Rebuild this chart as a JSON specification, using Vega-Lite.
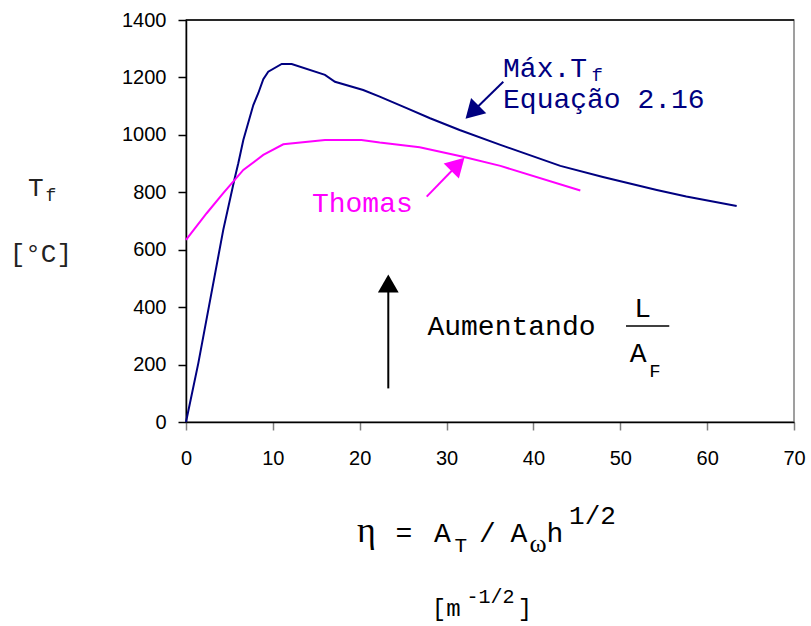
{
  "$schema": "https://vega.github.io/schema/vega-lite/v6.json",
  "width": 608,
  "height": 402,
  "autosize": {"type": "none"},
  "padding": {"left": 186, "top": 20, "right": 17, "bottom": 204},
  "background": "white",
  "config": {"view": {"stroke": "#808080", "strokeWidth": 1.5}},
  "datasets": {
    "curves": [
      {"label": "Max", "x": 0, "y": 0},
      {"label": "Max", "x": 1.42, "y": 205},
      {"label": "Max", "x": 4.29, "y": 669},
      {"label": "Max", "x": 5.56, "y": 843},
      {"label": "Max", "x": 6.02, "y": 901},
      {"label": "Max", "x": 6.6, "y": 982},
      {"label": "Max", "x": 7.75, "y": 1104},
      {"label": "Max", "x": 8.32, "y": 1145},
      {"label": "Max", "x": 8.9, "y": 1194},
      {"label": "Max", "x": 9.47, "y": 1220},
      {"label": "Max", "x": 11.02, "y": 1247},
      {"label": "Max", "x": 12.17, "y": 1247},
      {"label": "Max", "x": 16.0, "y": 1209},
      {"label": "Max", "x": 17.15, "y": 1185},
      {"label": "Max", "x": 20.4, "y": 1156},
      {"label": "Max", "x": 22.3, "y": 1133},
      {"label": "Max", "x": 25.4, "y": 1093},
      {"label": "Max", "x": 28.1, "y": 1058},
      {"label": "Max", "x": 31.5, "y": 1017},
      {"label": "Max", "x": 36.2, "y": 965},
      {"label": "Max", "x": 43.1, "y": 892},
      {"label": "Max", "x": 48.0, "y": 853},
      {"label": "Max", "x": 54.2, "y": 808},
      {"label": "Max", "x": 57.6, "y": 785},
      {"label": "Max", "x": 63.4, "y": 752},
      {"label": "Thomas", "x": 0, "y": 634},
      {"label": "Thomas", "x": 2.38, "y": 727},
      {"label": "Thomas", "x": 4.29, "y": 797},
      {"label": "Thomas", "x": 6.6, "y": 878},
      {"label": "Thomas", "x": 8.9, "y": 930},
      {"label": "Thomas", "x": 11.2, "y": 967},
      {"label": "Thomas", "x": 16.0, "y": 982},
      {"label": "Thomas", "x": 20.2, "y": 982},
      {"label": "Thomas", "x": 22.3, "y": 973},
      {"label": "Thomas", "x": 26.9, "y": 957},
      {"label": "Thomas", "x": 31.9, "y": 924},
      {"label": "Thomas", "x": 36.2, "y": 892},
      {"label": "Thomas", "x": 45.4, "y": 806}
    ],
    "arrows": [
      {"label": "Max", "x": 36.53, "y": 1185, "x2": 32.94, "y2": 1079},
      {"label": "Thomas", "x": 27.71, "y": 785, "x2": 31.3, "y2": 897},
      {"label": "Aumentando", "x": 23.29, "y": 117, "x2": 23.29, "y2": 482}
    ]
  },
  "layer": [
    {
      "data": {"name": "curves"},
      "mark": {"type": "line", "strokeWidth": 2},
      "encoding": {
        "x": {"field": "x", "type": "quantitative", "scale": {"domain": [0, 70], "nice": false, "zero": false},
          "axis": {"values": [0, 10, 20, 30, 40, 50, 60, 70], "format": "d", "title": null, "grid": false, "labelFont": "Liberation Sans", "labelFontSize": 20, "labelColor": "black", "domainColor": "black", "domainWidth": 1.5, "tickColor": "#808080", "tickWidth": 1.5, "tickSize": 8, "labelPadding": 18, "labelFlush": false}},
        "y": {"field": "y", "type": "quantitative", "scale": {"domain": [0, 1400], "nice": false},
          "axis": {"values": [0, 200, 400, 600, 800, 1000, 1200, 1400], "format": "d", "title": null, "grid": false, "labelFont": "Liberation Sans", "labelFontSize": 20, "labelColor": "black", "domainColor": "black", "domainWidth": 1.5, "tickColor": "black", "tickWidth": 1.5, "tickSize": 8, "labelPadding": 12}},
        "color": {"field": "label", "type": "nominal", "scale": {"domain": ["Max", "Thomas", "Aumentando"], "range": ["#000080", "#FF00FF", "#000000"]}, "legend": null},
        "order": {"field": "x", "type": "quantitative"}
      }
    },
    {
      "data": {"values": [{"x": 0, "x2": 70, "y": 1400}]},
      "mark": {"type": "rule", "color": "black", "strokeWidth": 1.5},
      "encoding": {"x": {"field": "x", "type": "quantitative"}, "x2": {"field": "x2"}, "y": {"field": "y", "type": "quantitative"}}
    },
    {
      "data": {"name": "arrows"},
      "mark": {"type": "rule", "strokeWidth": 2},
      "encoding": {
        "x": {"field": "x", "type": "quantitative"}, "y": {"field": "y", "type": "quantitative"},
        "x2": {"field": "x2"}, "y2": {"field": "y2"},
        "color": {"field": "label", "type": "nominal", "legend": null}
      }
    },
    {
      "data": {"values": [{"x": 32.94, "y": 1079}]},
      "mark": {"type": "point", "shape": "triangle-up", "filled": true, "opacity": 1, "color": "#000080", "size": 460, "angle": 225},
      "encoding": {"x": {"field": "x", "type": "quantitative"}, "y": {"field": "y", "type": "quantitative"}}
    },
    {
      "data": {"values": [{"x": 31.3, "y": 897}]},
      "mark": {"type": "point", "shape": "triangle-up", "filled": true, "opacity": 1, "color": "#FF00FF", "size": 460, "angle": 45},
      "encoding": {"x": {"field": "x", "type": "quantitative"}, "y": {"field": "y", "type": "quantitative"}}
    },
    {
      "data": {"values": [{"x": 23.29, "y": 482}]},
      "mark": {"type": "point", "shape": "triangle-up", "filled": true, "opacity": 1, "color": "#000000", "size": 430, "angle": 0},
      "encoding": {"x": {"field": "x", "type": "quantitative"}, "y": {"field": "y", "type": "quantitative"}}
    },
    {
      "data": {"values": [{"x": 36.5, "y": 1200, "t": "Máx.T"}, {"x": 36.5, "y": 1092, "t": "Equação 2.16"}]},
      "mark": {"type": "text", "font": "Liberation Mono", "fontSize": 28, "color": "#000080", "align": "left", "baseline": "alphabetic"},
      "encoding": {"x": {"field": "x", "type": "quantitative"}, "y": {"field": "y", "type": "quantitative"}, "text": {"field": "t"}}
    },
    {
      "data": {"values": [{"x": 46.7, "y": 1189, "t": "f"}]},
      "mark": {"type": "text", "font": "Liberation Mono", "fontSize": 19, "color": "#000080", "align": "left", "baseline": "alphabetic"},
      "encoding": {"x": {"field": "x", "type": "quantitative"}, "y": {"field": "y", "type": "quantitative"}, "text": {"field": "t"}}
    },
    {
      "data": {"values": [{"x": 14.5, "y": 732, "t": "Thomas"}]},
      "mark": {"type": "text", "font": "Liberation Mono", "fontSize": 28, "color": "#FF00FF", "align": "left", "baseline": "alphabetic"},
      "encoding": {"x": {"field": "x", "type": "quantitative"}, "y": {"field": "y", "type": "quantitative"}, "text": {"field": "t"}}
    },
    {
      "data": {"values": [{"x": 27.8, "y": 303, "t": "Aumentando"}]},
      "mark": {"type": "text", "font": "Liberation Mono", "fontSize": 28, "color": "black", "align": "left", "baseline": "alphabetic"},
      "encoding": {"x": {"field": "x", "type": "quantitative"}, "y": {"field": "y", "type": "quantitative"}, "text": {"field": "t"}}
    },
    {
      "data": {"values": [{"x": 52.58, "y": 367, "t": "L"}, {"x": 52.07, "y": 210, "t": "A"}]},
      "mark": {"type": "text", "font": "Liberation Mono", "fontSize": 28, "color": "black", "align": "center", "baseline": "alphabetic"},
      "encoding": {"x": {"field": "x", "type": "quantitative"}, "y": {"field": "y", "type": "quantitative"}, "text": {"field": "t"}}
    },
    {
      "data": {"values": [{"x": 54.0, "y": 156, "t": "F"}]},
      "mark": {"type": "text", "font": "Liberation Mono", "fontSize": 19, "color": "black", "align": "center", "baseline": "alphabetic"},
      "encoding": {"x": {"field": "x", "type": "quantitative"}, "y": {"field": "y", "type": "quantitative"}, "text": {"field": "t"}}
    },
    {
      "data": {"values": [{"x": 50.66, "x2": 55.64, "y": 334}]},
      "mark": {"type": "rule", "color": "black", "strokeWidth": 1.5},
      "encoding": {"x": {"field": "x", "type": "quantitative"}, "x2": {"field": "x2"}, "y": {"field": "y", "type": "quantitative"}}
    },
    {
      "data": {"values": [{"x": -17.29, "y": 787, "t": "T"}, {"x": -16.71, "y": 558, "t": "[°C]"}]},
      "mark": {"type": "text", "font": "Liberation Mono", "fontSize": 26, "color": "#222222", "align": "center", "baseline": "alphabetic"},
      "encoding": {"x": {"field": "x", "type": "quantitative"}, "y": {"field": "y", "type": "quantitative"}, "text": {"field": "t"}}
    },
    {
      "data": {"values": [{"x": -15.54, "y": 770, "t": "f"}]},
      "mark": {"type": "text", "font": "Liberation Mono", "fontSize": 18, "color": "#222222", "align": "center", "baseline": "alphabetic"},
      "encoding": {"x": {"field": "x", "type": "quantitative"}, "y": {"field": "y", "type": "quantitative"}, "text": {"field": "t"}}
    },
    {
      "data": {"values": [{"x": 20.78, "y": -417, "t": "η"}]},
      "mark": {"type": "text", "font": "Liberation Serif", "fontSize": 36, "color": "black", "align": "center", "baseline": "alphabetic"},
      "encoding": {"x": {"field": "x", "type": "quantitative"}, "y": {"field": "y", "type": "quantitative"}, "text": {"field": "t"}}
    },
    {
      "data": {"values": [{"x": 25.1, "y": -417, "t": "="}, {"x": 29.53, "y": -417, "t": "A"}, {"x": 34.71, "y": -417, "t": "/"}, {"x": 38.34, "y": -417, "t": "A"}, {"x": 42.48, "y": -417, "t": "h"}]},
      "mark": {"type": "text", "font": "Liberation Mono", "fontSize": 28, "color": "black", "align": "center", "baseline": "alphabetic"},
      "encoding": {"x": {"field": "x", "type": "quantitative"}, "y": {"field": "y", "type": "quantitative"}, "text": {"field": "t"}}
    },
    {
      "data": {"values": [{"x": 31.64, "y": -452, "t": "T"}]},
      "mark": {"type": "text", "font": "Liberation Mono", "fontSize": 21, "color": "black", "align": "center", "baseline": "alphabetic"},
      "encoding": {"x": {"field": "x", "type": "quantitative"}, "y": {"field": "y", "type": "quantitative"}, "text": {"field": "t"}}
    },
    {
      "data": {"values": [{"x": 40.52, "y": -452, "t": "ω"}]},
      "mark": {"type": "text", "font": "Liberation Serif", "fontSize": 26, "color": "black", "align": "center", "baseline": "alphabetic"},
      "encoding": {"x": {"field": "x", "type": "quantitative"}, "y": {"field": "y", "type": "quantitative"}, "text": {"field": "t"}}
    },
    {
      "data": {"values": [{"x": 46.8, "y": -355, "t": "1/2"}]},
      "mark": {"type": "text", "font": "Liberation Mono", "fontSize": 26, "color": "black", "align": "center", "baseline": "alphabetic"},
      "encoding": {"x": {"field": "x", "type": "quantitative"}, "y": {"field": "y", "type": "quantitative"}, "text": {"field": "t"}}
    },
    {
      "data": {"values": [{"x": 28.3, "y": -676, "t": "[m"}, {"x": 38.2, "y": -676, "t": "]"}]},
      "mark": {"type": "text", "font": "Liberation Mono", "fontSize": 24, "color": "black", "align": "left", "baseline": "alphabetic"},
      "encoding": {"x": {"field": "x", "type": "quantitative"}, "y": {"field": "y", "type": "quantitative"}, "text": {"field": "t"}}
    },
    {
      "data": {"values": [{"x": 32.3, "y": -632, "t": "-1/2"}]},
      "mark": {"type": "text", "font": "Liberation Mono", "fontSize": 20, "color": "black", "align": "left", "baseline": "alphabetic"},
      "encoding": {"x": {"field": "x", "type": "quantitative"}, "y": {"field": "y", "type": "quantitative"}, "text": {"field": "t"}}
    }
  ]
}
